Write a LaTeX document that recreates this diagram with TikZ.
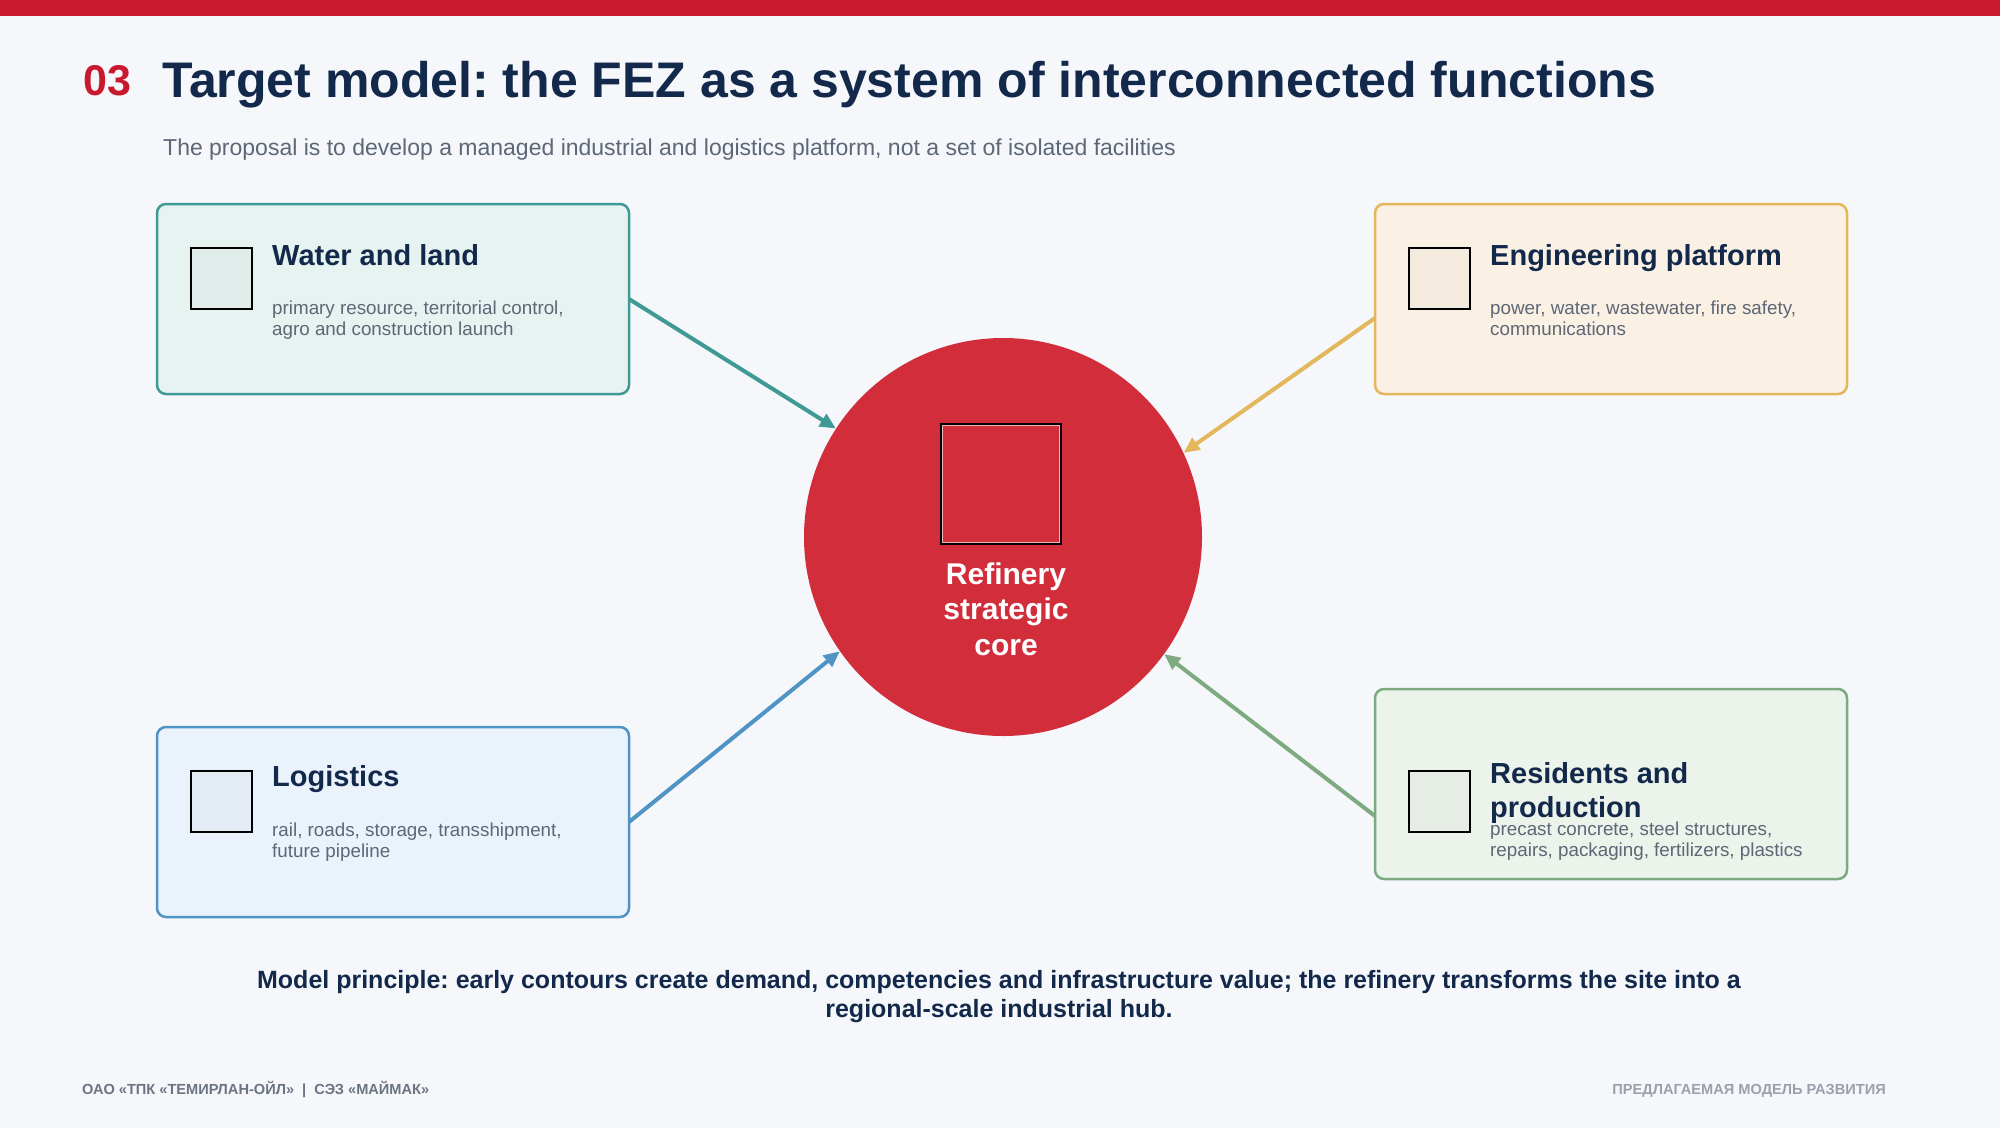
\documentclass[tikz,border=0pt]{standalone}
\usepackage{fontspec}
\setmainfont{Liberation Sans}
\usepackage{tikz}
\usetikzlibrary{arrows.meta,positioning}
\frenchspacing

\definecolor{pagebg}{HTML}{F5F7FB}
\definecolor{barred}{HTML}{C8192E}
\definecolor{navy}{HTML}{13294B}
\definecolor{slate}{HTML}{5D6776}
\definecolor{corered}{HTML}{D22D3A}
\definecolor{tealline}{HTML}{3F9A96}
\definecolor{tealfill}{HTML}{E6F3F1}
\definecolor{goldline}{HTML}{E3B75C}
\definecolor{goldfill}{HTML}{FAF0E4}
\definecolor{blueline}{HTML}{4F94C4}
\definecolor{bluefill}{HTML}{EAF3FB}
\definecolor{greenline}{HTML}{7DAA7F}
\definecolor{greenfill}{HTML}{ECF3EB}
\definecolor{footgray}{HTML}{6B7482}
\definecolor{footlight}{HTML}{9AA1AA}

\begin{document}
\begin{tikzpicture}[x=1pt,y=-1pt,>={Triangle[length=16pt,width=14pt]},
                    node distance=746pt]

  \tikzstyle{card}=[draw,line width=2.5pt,rounded corners=9pt,outer sep=0pt,
                    minimum width=472pt,minimum height=190pt,inner sep=0pt]
  \tikzstyle{icon}=[draw=black,line width=2.2pt,fill=black,fill opacity=0.025,
                    minimum size=61pt,inner sep=0pt,anchor=north west]
  \tikzstyle{head}=[anchor=base west,inner sep=0pt,text=navy,align=left,
                    font=\fontsize{29}{34}\selectfont\bfseries]
  \tikzstyle{note}=[anchor=base west,inner sep=0pt,text=slate,align=left,
                    font=\fontsize{18.8}{21}\selectfont]
  \tikzstyle{link}=[->,line width=4pt]

  % page
  \fill[pagebg] (0,0) rectangle (2000,1128);
  \fill[barred] (0,0) rectangle (2000,16);

  \node[anchor=base west,inner sep=0pt,text=barred,font=\fontsize{43}{43}\selectfont\bfseries]
       (NUM) at (83,95.5) {03};
  \node[anchor=base west,inner sep=0pt,text=navy,font=\fontsize{50}{50}\selectfont\bfseries]
       (TTL) at (162,97) {Target model: the FEZ as a system of interconnected functions};
  \node[anchor=base west,inner sep=0pt,text=slate,font=\fontsize{23}{27}\selectfont]
       (SUB) at (163,155) {The proposal is to develop a managed industrial and logistics platform, not a set of isolated facilities};

  % four function cards
  \node[card,draw=tealline,fill=tealfill]  (WL) at (393,299) {};
  \node[card,draw=goldline,fill=goldfill]  (EP) [right=of WL] {};
  \node[card,draw=blueline,fill=bluefill]  (LG) [below=333pt of WL] {};
  \node[card,draw=greenline,fill=greenfill] (RP) at (1611,784) {};

  % multi-line texts hang from their last baseline
  \node[icon] (WLi) at ([shift={(33,43)}]WL.north west) {};
  \node[head] (WLh) at ([shift={(115,61)}]WL.north west) {Water and land};
  \node[note] (WLn) at ([shift={(115,131)}]WL.north west)
       {primary resource, territorial control,\\agro and construction launch};

  \node[icon] (EPi) at ([shift={(33,43)}]EP.north west) {};
  \node[head] (EPh) at ([shift={(115,61)}]EP.north west) {Engineering platform};
  \node[note] (EPn) at ([shift={(115,131)}]EP.north west)
       {power, water, wastewater, fire safety,\\communications};

  \node[icon] (LGi) at ([shift={(33,43)}]LG.north west) {};
  \node[head] (LGh) at ([shift={(115,59)}]LG.north west) {Logistics};
  \node[note] (LGn) at ([shift={(115,130)}]LG.north west)
       {rail, roads, storage, transshipment,\\future pipeline};

  \node[icon] (RPi) at ([shift={(33,81)}]RP.north west) {};
  \node[head] (RPh) at ([shift={(115,128)}]RP.north west) {Residents and\\production};
  \node[note] (RPn) at ([shift={(115,167)}]RP.north west)
       {precast concrete, steel structures,\\repairs, packaging, fertilizers, plastics};

  % core
  \node[circle,fill=corered,minimum size=398pt,inner sep=0pt] (RC) at (1003,537) {};
  \node[draw=black,line width=2pt,minimum size=120pt,inner sep=0pt] (RS) at (1001,484) {};
  \draw[white!65!corered,line width=1pt]
       ([shift={(2.5,2.5)}]RS.north west) rectangle ([shift={(-2.5,-2.5)}]RS.south east);
  \node[anchor=base,inner sep=0pt,text=white,align=center,
        font=\fontsize{30}{35.5}\selectfont\bfseries] (RT) at (1006,655)
       {Refinery\\strategic\\core};

  \path (WL.east) edge[link,draw=tealline] (RC.147)
        ([yshift=-19pt]EP.west) edge[link,draw=goldline] (RC.25.5)
        (LG.east) edge[link,draw=blueline] (RC.215.5)
        ([yshift=-32pt]RP.west) edge[link,draw=greenline] (RC.324.3);

  % principle and footer
  \node[anchor=base,inner sep=0pt,text=navy,align=center,
        font=\fontsize{25}{29}\selectfont\bfseries] (PRN) at (999,1017)
       {Model principle: early contours create demand, competencies and infrastructure value; the refinery transforms the site into a\\regional-scale industrial hub.};
  \node[anchor=base west,inner sep=0pt,text=footgray,font=\fontsize{14.6}{16}\selectfont\bfseries]
       (FTL) at (82,1094) {ОАО «ТПК «ТЕМИРЛАН-ОЙЛ»\ \ |\ \ СЭЗ «МАЙМАК»};
  \node[anchor=base east,inner sep=0pt,text=footlight,font=\fontsize{14.6}{16}\selectfont\bfseries]
       (FTR) at (1886,1094) {ПРЕДЛАГАЕМАЯ МОДЕЛЬ РАЗВИТИЯ};
\end{tikzpicture}
\end{document}
